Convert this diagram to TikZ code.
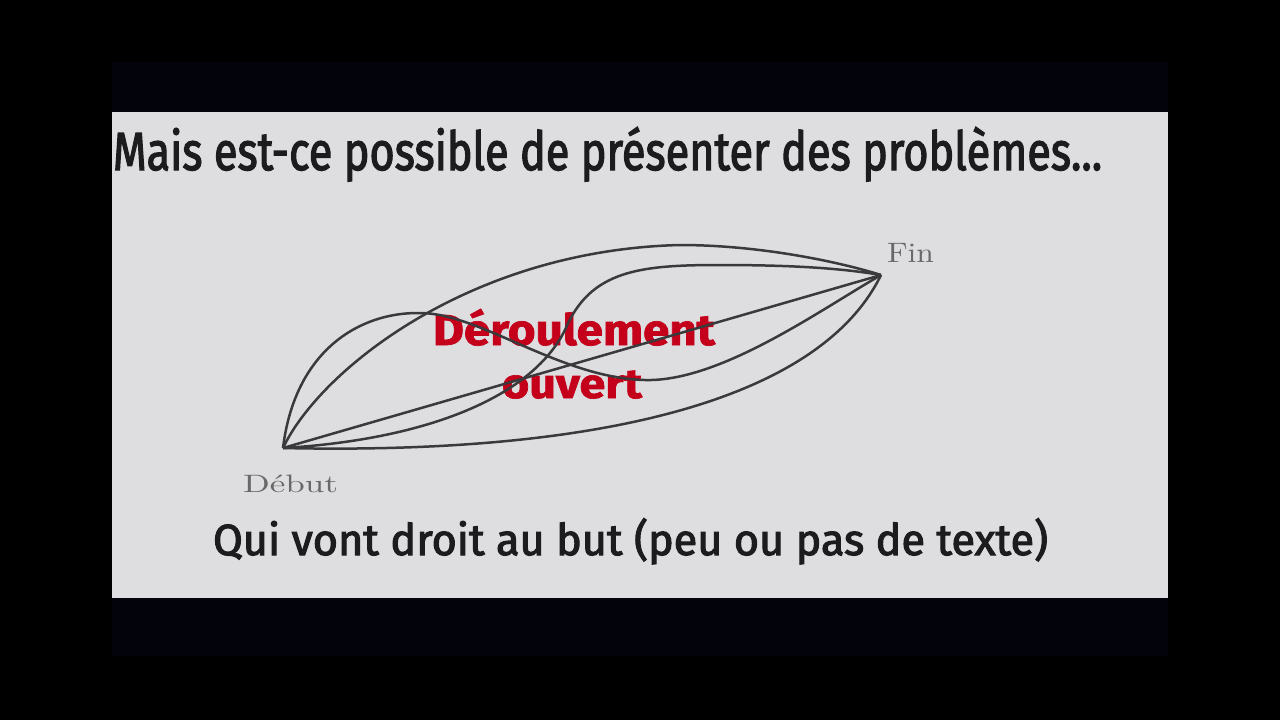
\documentclass[tikz,border=0pt]{standalone}
\usepackage{fontspec}
\newfontfamily\condt{Fira Sans}[FakeBold=2.5]
\newfontfamily\condr{Fira Sans}[FakeBold=1.6]
\newcommand\fitbox[4]{\resizebox{#1}{#2}{\smash{#4}\rule{0pt}{\fontcharht\font`#3}}}
\definecolor{bandc}{RGB}{3,3,12}
\definecolor{slidec}{RGB}{222,222,224}
\definecolor{curvec}{RGB}{58,58,60}
\definecolor{redc}{RGB}{196,0,26}
\definecolor{titlec}{RGB}{28,28,30}
\definecolor{labc}{RGB}{105,105,105}
\begin{document}
\begin{tikzpicture}[x=0.5pt,y=-0.5pt,
  curve/.style={draw=curvec, line width=1.25pt, line join=round},
  txt/.style={inner sep=0pt, outer sep=0pt, anchor=base west}]
\fill[black] (0,0) rectangle (1280,720);
\fill[bandc] (112,62) rectangle (1168,112);
\fill[bandc] (112,598) rectangle (1168,656);
\fill[slidec] (112,112) rectangle (1168,598);
% texts
\node[txt, text=titlec] (title) at (113,170) {\condt\fitbox{494.5pt}{18.5pt}{M}{Mais est-ce possible de présenter des problèmes...}};
\node[txt, text=titlec] (sub) at (213,555) {\condt\fitbox{417.5pt}{15pt}{M}{Qui vont droit au but (peu ou pas de texte)}};
\node[txt, text=redc] (red1) at (433,345) {\condr\bfseries\fitbox{141pt}{15pt}{M}{Déroulement}};
\node[txt, text=redc] (red2) at (502,398) {\condr\bfseries\fitbox{70pt}{11pt}{x}{ouvert}};
\node[txt, text=labc] (debut) at (243,492) {\fitbox{47.5pt}{8.6pt}{M}{Début}};
\node[txt, text=labc] (fin) at (887,262) {\fitbox{23.5pt}{9.6pt}{M}{Fin}};
% end points
\coordinate (S) at (283,448);
\coordinate (E) at (881,275);
% curves
\draw[curve] (S) .. controls (320,370) and (470,250) .. (680,245) .. controls (760,245) and (840,262) .. (E);
\draw[curve] (S) .. controls (295,350) and (360,312) .. (420,313) .. controls (480,313) and (560,378) .. (645,380) .. controls (720,382) and (820,310) .. (E);
\draw[curve] (S) -- (E);
\draw[curve] (S) .. controls (420,440) and (530,400) .. (565,330) .. controls (590,270) and (640,265) .. (720,265) .. controls (790,265) and (840,268) .. (E);
\draw[curve] (S) .. controls (600,455) and (820,400) .. (E);
\end{tikzpicture}
\end{document}
